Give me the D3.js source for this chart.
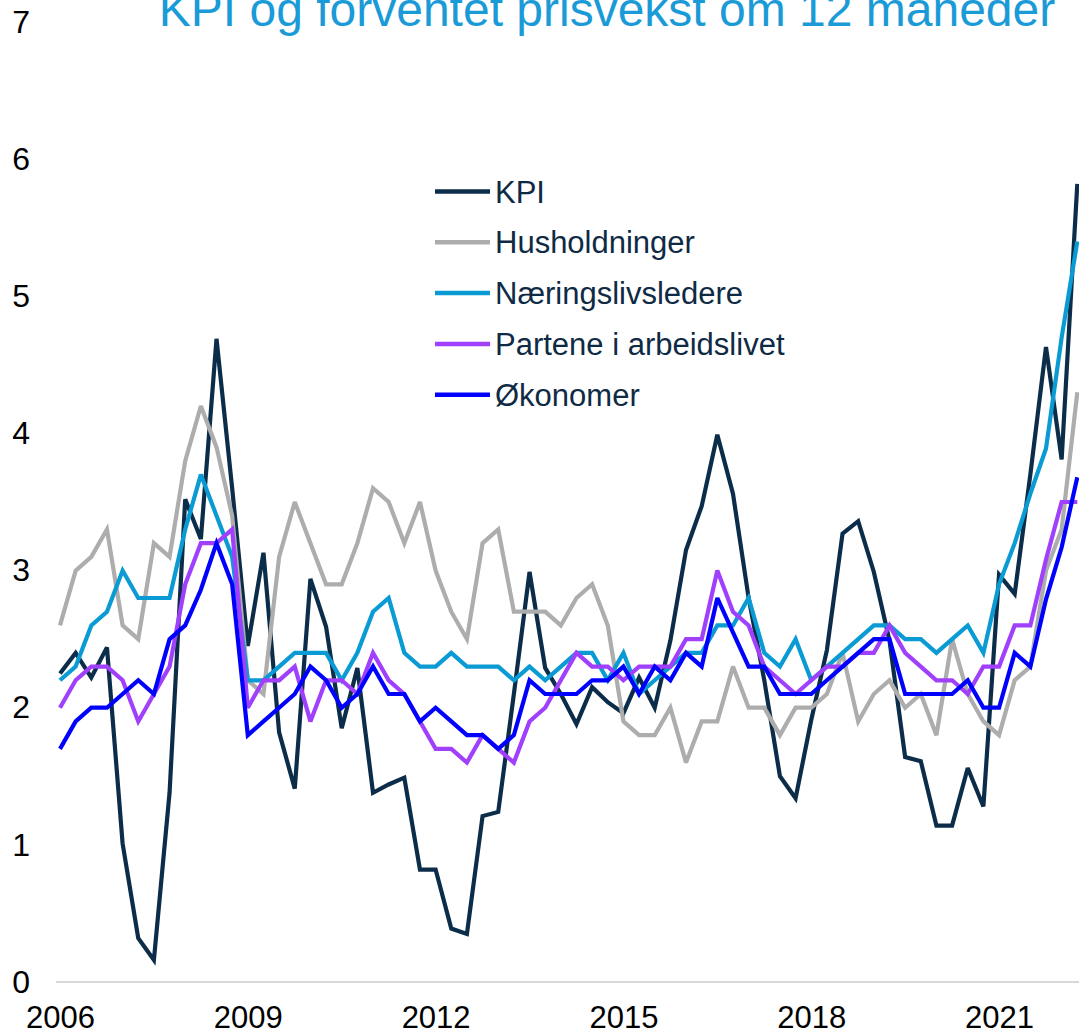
<!DOCTYPE html>
<html>
<head>
<meta charset="utf-8">
<script src="https://cdn.jsdelivr.net/npm/d3@7"></script>
<style>
  html, body { margin: 0; padding: 0; background: #ffffff; }
  svg { display: block; }
  text { font-family: "Liberation Sans", Arial, sans-serif; }
</style>
</head>
<body>
<svg id="chart" width="1079" height="1034"></svg>
<script>
// ---------- DATA ----------
const title = "KPI og forventet prisvekst om 12 måneder";
const startYear = 2006;
const quarterCount = 66; // 2006 K1 – 2022 K2
const quarters = d3.range(quarterCount).map(i => `${startYear + Math.floor(i / 4)}K${(i % 4) + 1}`);
const xTickLabels = ["2006", "2009", "2012", "2015", "2018", "2021"];
const yTicks = [0, 1, 2, 3, 4, 5, 6, 7];

const seriesNames = ["KPI", "Husholdninger", "Næringslivsledere", "Partene i arbeidslivet", "Økonomer"];

const kpi = [2.25, 2.4, 2.22, 2.44, 1.01, 0.32, 0.16, 1.38, 3.52, 3.23, 4.69, 3.6,
  2.45, 3.13, 1.82, 1.41, 2.94, 2.59, 1.85, 2.29, 1.38, 1.44, 1.49, 0.82,
  0.82, 0.39, 0.35, 1.21, 1.24, 2.1, 2.99, 2.29, 2.1, 1.88, 2.15, 2.04,
  1.96, 2.22, 2.0, 2.49, 3.15, 3.47, 3.99, 3.56, 2.8, 2.2, 1.5, 1.34,
  1.91, 2.42, 3.27, 3.36, 2.99, 2.49, 1.64, 1.61, 1.14, 1.14, 1.56, 1.28,
  2.97, 2.83, 3.7, 4.63, 3.81, 5.82];

const husholdninger = [2.6, 3.0, 3.1, 3.3, 2.6, 2.5, 3.2, 3.1, 3.8, 4.2, 3.9, 3.4,
  2.2, 2.1, 3.1, 3.5, 3.2, 2.9, 2.9, 3.2, 3.6, 3.5, 3.2, 3.5,
  3.0, 2.7, 2.5, 3.2, 3.3, 2.7, 2.7, 2.7, 2.6, 2.8, 2.9, 2.6,
  1.9, 1.8, 1.8, 2.0, 1.6, 1.9, 1.9, 2.3, 2.0, 2.0, 1.8, 2.0,
  2.0, 2.1, 2.4, 1.9, 2.1, 2.2, 2.0, 2.1, 1.8, 2.5, 2.1, 1.9,
  1.8, 2.2, 2.3, 3.0, 3.3, 4.3];

const naeringsliv = [2.2, 2.3, 2.6, 2.7, 3.0, 2.8, 2.8, 2.8, 3.3, 3.7, 3.4, 3.1,
  2.2, 2.2, 2.3, 2.4, 2.4, 2.4, 2.2, 2.4, 2.7, 2.8, 2.4, 2.3,
  2.3, 2.4, 2.3, 2.3, 2.3, 2.2, 2.3, 2.2, 2.3, 2.4, 2.4, 2.2,
  2.4, 2.1, 2.2, 2.3, 2.4, 2.4, 2.6, 2.6, 2.8, 2.4, 2.3, 2.5,
  2.2, 2.3, 2.4, 2.5, 2.6, 2.6, 2.5, 2.5, 2.4, 2.5, 2.6, 2.4,
  2.9, 3.2, 3.56, 3.89, 4.7, 5.4];

const partene = [2.0, 2.2, 2.3, 2.3, 2.2, 1.9, 2.1, 2.3, 2.9, 3.2, 3.2, 3.3,
  2.0, 2.2, 2.2, 2.3, 1.9, 2.2, 2.2, 2.1, 2.4, 2.2, 2.1, 1.9,
  1.7, 1.7, 1.6, 1.8, 1.7, 1.6, 1.9, 2.0, 2.2, 2.4, 2.3, 2.3,
  2.2, 2.3, 2.3, 2.3, 2.5, 2.5, 3.0, 2.7, 2.6, 2.3, 2.2, 2.1,
  2.2, 2.3, 2.3, 2.4, 2.4, 2.6, 2.4, 2.3, 2.2, 2.2, 2.1, 2.3,
  2.3, 2.6, 2.6, 3.08, 3.5, 3.5];

const okonomer = [1.7, 1.9, 2.0, 2.0, 2.1, 2.2, 2.1, 2.5, 2.6, 2.86, 3.2, 2.9,
  1.8, 1.9, 2.0, 2.1, 2.3, 2.2, 2.0, 2.1, 2.3, 2.1, 2.1, 1.9,
  2.0, 1.9, 1.8, 1.8, 1.7, 1.8, 2.2, 2.1, 2.1, 2.1, 2.2, 2.2,
  2.3, 2.1, 2.3, 2.2, 2.4, 2.3, 2.8, 2.55, 2.3, 2.3, 2.1, 2.1,
  2.1, 2.2, 2.3, 2.4, 2.5, 2.5, 2.1, 2.1, 2.1, 2.1, 2.2, 2.0,
  2.0, 2.4, 2.3, 2.79, 3.17, 3.68];

const seriesValues = [kpi, husholdninger, naeringsliv, partene, okonomer];
const seriesColors = ["#0c2d49", "#adadad", "#0b9bd4", "#a03ffc", "#0000ff"];

// ---------- CHART ----------
const svg = d3.select("#chart");

const x = d3.scalePoint().domain(quarters).range([60, 1077.3]);
const y = d3.scaleLinear().domain([0, 7]).range([982, 22]);

// title
svg.append("text")
  .attr("x", 607).attr("y", 26)
  .attr("text-anchor", "middle")
  .attr("fill", "#1a9bd7")
  .attr("font-size", 48)
  .text(title);

// y axis labels
const yAxis = d3.axisLeft(y).tickValues(yTicks).tickFormat(d3.format("d")).tickSize(0).tickPadding(0);
const gy = svg.append("g").attr("transform", "translate(30,0)").call(yAxis);
gy.select(".domain").remove();
gy.selectAll("text").attr("font-size", 32).attr("fill", "#000").attr("font-family", "Liberation Sans, Arial, sans-serif");

// x baseline
svg.append("line")
  .attr("x1", x.range()[0] - 4).attr("x2", 1079)
  .attr("y1", y(0)).attr("y2", y(0))
  .attr("stroke", "#d9d9d9").attr("stroke-width", 2);

// x axis labels
const xAxis = d3.axisBottom(x)
  .tickValues(xTickLabels.map(t => t + "K1"))
  .tickFormat(d => d.slice(0, 4))
  .tickSize(0).tickPadding(24);
const gx = svg.append("g").attr("transform", `translate(0,${y(0)})`).call(xAxis);
gx.select(".domain").remove();
gx.selectAll("text").attr("font-size", 31).attr("fill", "#000").attr("font-family", "Liberation Sans, Arial, sans-serif");

// lines
const line = d3.line()
  .x((d, i) => x(quarters[i]))
  .y(d => y(d));

seriesValues.forEach((vals, k) => {
  svg.append("path")
    .datum(vals)
    .attr("fill", "none")
    .attr("stroke", seriesColors[k])
    .attr("stroke-width", 4.2)
    .attr("stroke-linejoin", "miter")
    .attr("stroke-miterlimit", 3)
    .attr("d", line);
});

// legend
const legend = svg.append("g").attr("transform", "translate(435,191.5)");
seriesNames.forEach((name, k) => {
  const g = legend.append("g").attr("transform", `translate(0,${k * 50.8})`);
  g.append("line").attr("x1", 0).attr("x2", 55).attr("y1", 0).attr("y2", 0)
    .attr("stroke", seriesColors[k]).attr("stroke-width", 4.5);
  g.append("text").attr("x", 60).attr("y", 11)
    .attr("font-size", 31).attr("fill", "#0f2a44")
    .text(name);
});
</script>
</body>
</html>
